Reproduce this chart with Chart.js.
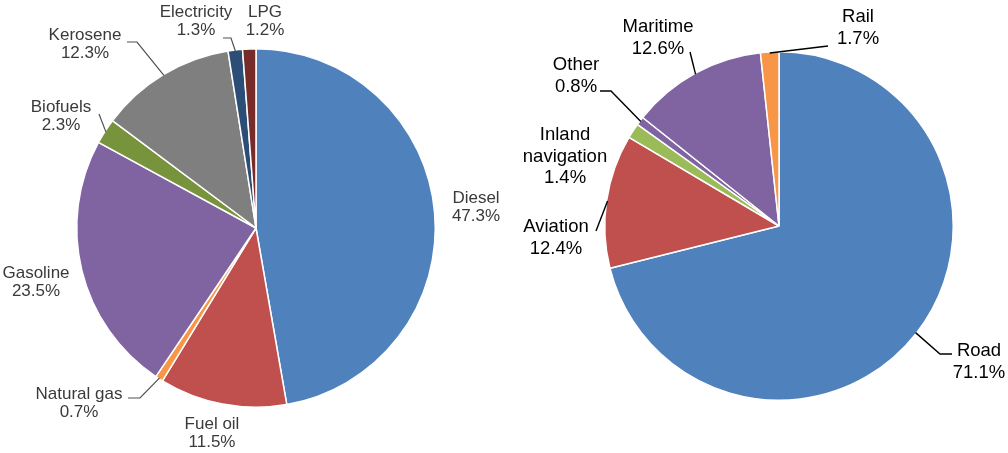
<!DOCTYPE html>
<html>
<head>
<meta charset="utf-8">
<script src="https://cdn.jsdelivr.net/npm/chart.js@4/dist/chart.umd.min.js"></script>
<style>
html,body{margin:0;padding:0;background:#fff;}
#wrap{position:relative;width:1008px;height:453px;overflow:hidden;}
canvas{position:absolute;top:0;}
</style>
</head>
<body>
<div id="wrap">
<canvas id="c1" width="504" height="453" style="left:0"></canvas>
<canvas id="c2" width="504" height="453" style="left:504px"></canvas>
</div>
<script>
// ---- data ----
const fuelCategories = ['Diesel','Fuel oil','Natural gas','Gasoline','Biofuels','Kerosene','Electricity','LPG'];
const fuelShares = [47.3, 11.5, 0.7, 23.5, 2.3, 12.3, 1.3, 1.2];
const modeCategories = ['Road','Aviation','Inland navigation','Other','Maritime','Rail'];
const modeShares = [71.1, 12.4, 1.4, 0.8, 12.6, 1.7];

// ---- styles ----
const fuelColors = ['#4F81BD','#C0504D','#F79646','#8064A2','#77933C','#7F7F7F','#2C4D75','#772C2A'];
const modeColors = ['#4F81BD','#C0504D','#9BBB59','#8064A2','#8064A2','#F79646'];

// label layout (page coordinates): text centre, first-line y, optional leader points (text side first)
const fuelLabelLayout = [
  {x:476, y:198},
  {x:212, y:424},
  {x:79,  y:394, leader:[[128,398],[140,398]]},
  {x:36,  y:273},
  {x:61,  y:107, leader:[[99,114]]},
  {x:85,  y:35,  leader:[[127,42],[137,42]]},
  {x:196, y:12,  leader:[[223,38],[231,38]]},
  {x:265, y:12}
];
const modeLabelLayout = [
  {x:979, y:351, leader:[[952,354],[940,354]]},
  {x:556, y:227, leader:[[596,231]]},
  {x:565, y:135, wrap:true},
  {x:576, y:65,  leader:[[600,91],[611,91]]},
  {x:658, y:27,  leader:[[690,52]]},
  {x:858, y:17,  leader:[[828,46]]}
];

function labelPlugin(layout, offsetX, font, color, lineColor, lineWidth, lineH) {
  return {
    id: 'pieLabels',
    afterDatasetsDraw(chart) {
      const ctx = chart.ctx;
      const meta = chart.getDatasetMeta(0);
      const vals = chart.data.datasets[0].data;
      const cats = chart.data.labels;
      ctx.save();
      meta.data.forEach((arc, i) => {
        const L = layout[i];
        const p = arc.getProps(['x','y','startAngle','endAngle','outerRadius'], true);
        const mid = (p.startAngle + p.endAngle) / 2;
        const ax = p.x + Math.cos(mid) * (p.outerRadius - 1);
        const ay = p.y + Math.sin(mid) * (p.outerRadius - 1);
        if (L.leader) {
          ctx.beginPath();
          ctx.strokeStyle = lineColor;
          ctx.lineWidth = lineWidth;
          L.leader.forEach((pt, k) => {
            const px = pt[0] - offsetX, py = pt[1];
            if (k === 0) ctx.moveTo(px, py); else ctx.lineTo(px, py);
          });
          ctx.lineTo(ax, ay);
          ctx.stroke();
        }
        const lines = L.wrap ? cats[i].split(' ') : [cats[i]];
        lines.push(vals[i].toFixed(1) + '%');
        ctx.font = font;
        ctx.fillStyle = color;
        ctx.textAlign = 'center';
        ctx.textBaseline = 'middle';
        lines.forEach((t, k) => ctx.fillText(t, L.x - offsetX, L.y + k * lineH));
      });
      ctx.restore();
    }
  };
}

const commonOpts = (pad) => ({
  responsive: false,
  animation: false,
  devicePixelRatio: 1,
  layout: { padding: pad },
  plugins: { legend: { display: false }, tooltip: { enabled: false } },
  events: []
});

new Chart(document.getElementById('c1'), {
  type: 'pie',
  data: { labels: fuelCategories, datasets: [{ data: fuelShares, backgroundColor: fuelColors, borderColor: '#ffffff', borderWidth: 1.5 }] },
  options: commonOpts({ left: 76, right: 68, top: 48, bottom: 45 }),
  plugins: [labelPlugin(fuelLabelLayout, 0, '17px "Liberation Sans", Arial, sans-serif', '#3a3a3a', '#505050', 1.2, 18.5)]
});

new Chart(document.getElementById('c2'), {
  type: 'pie',
  data: { labels: modeCategories, datasets: [{ data: modeShares, backgroundColor: modeColors, borderColor: '#ffffff', borderWidth: 1.5 }] },
  options: commonOpts({ left: 100, right: 54, top: 51, bottom: 52 }),
  plugins: [labelPlugin(modeLabelLayout, 504, '18.5px "Liberation Sans", Arial, sans-serif', '#000000', '#000000', 1.4, 21.5)]
});
</script>
</body>
</html>
